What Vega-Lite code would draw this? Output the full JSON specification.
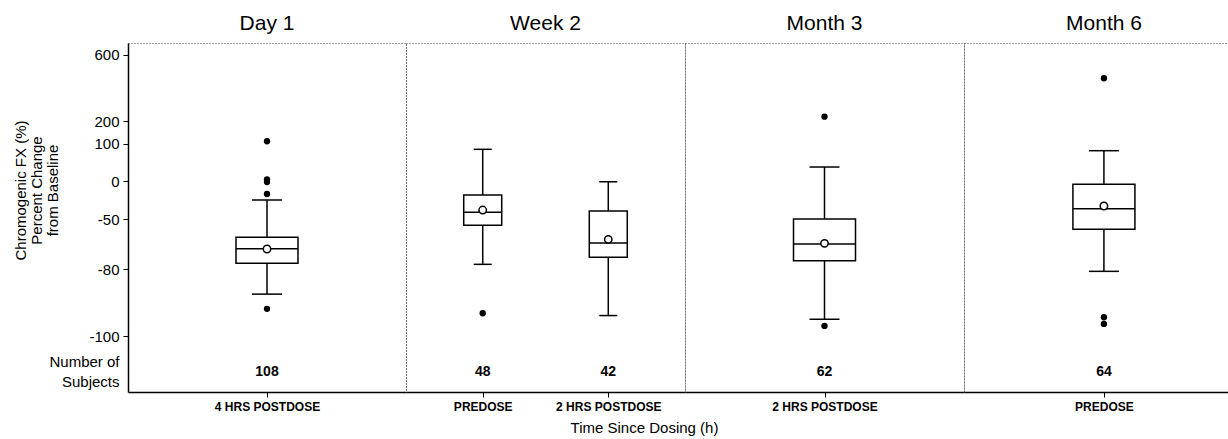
{
  "$schema": "https://vega.github.io/schema/vega-lite/v6.json",
  "padding": {"left": 12, "top": 12, "right": 0, "bottom": 0},
  "data": {"values": [
    {"kind":"box","visit":"Day 1","time":"4 HRS POSTDOSE","n":108,"wlo":-87.5,"q1":-76.6,"med":-67.8,"q3":-61,"whi":-25,"mean":-68},
    {"kind":"box","visit":"Week 2","time":"PREDOSE","n":48,"wlo":-77.2,"q1":-53.8,"med":-41.2,"q3":-18.4,"whi":84.5,"mean":-38.2},
    {"kind":"box","visit":"Week 2","time":"2 HRS POSTDOSE","n":42,"wlo":-93.9,"q1":-73,"med":-64.4,"q3":-39.5,"whi":-1,"mean":-62.2},
    {"kind":"box","visit":"Month 3","time":"2 HRS POSTDOSE","n":62,"wlo":-95,"q1":-75,"med":-65,"q3":-50,"whi":37.3,"mean":-64.6},
    {"kind":"box","visit":"Month 6","time":"PREDOSE","n":64,"wlo":-80.7,"q1":-56.2,"med":-36.5,"q3":-4.3,"whi":80.8,"mean":-32.9},
    {"kind":"out","visit":"Day 1","time":"4 HRS POSTDOSE","value":110},
    {"kind":"out","visit":"Day 1","time":"4 HRS POSTDOSE","value":4.5},
    {"kind":"out","visit":"Day 1","time":"4 HRS POSTDOSE","value":-1.3},
    {"kind":"out","visit":"Day 1","time":"4 HRS POSTDOSE","value":-17.1},
    {"kind":"out","visit":"Day 1","time":"4 HRS POSTDOSE","value":-91.9},
    {"kind":"out","visit":"Week 2","time":"PREDOSE","value":-93.2},
    {"kind":"out","visit":"Month 3","time":"2 HRS POSTDOSE","value":226},
    {"kind":"out","visit":"Month 3","time":"2 HRS POSTDOSE","value":-97},
    {"kind":"out","visit":"Month 6","time":"PREDOSE","value":457},
    {"kind":"out","visit":"Month 6","time":"PREDOSE","value":-94.4},
    {"kind":"out","visit":"Month 6","time":"PREDOSE","value":-96.4}
  ]},
  "title": {"text": "Time Since Dosing (h)", "orient": "bottom", "anchor": "middle", "fontSize": 15, "fontWeight": "normal", "offset": 8, "dx": 23, "color": "black"},
  "spacing": 0,
  "bounds": "flush",
  "resolve": {"scale": {"x": "independent", "y": "independent"}},
  "hconcat": [
    {
      "width": 278, "height": 349,
      "title": {"text": "Day 1", "fontSize": 21, "fontWeight": "normal", "anchor": "middle", "offset": 9, "color": "black"},
      "transform": [{"filter": "datum.visit == 'Day 1'"}],
      "encoding": {"x": {"field": "time", "type": "nominal", "sort": ["4 HRS POSTDOSE","PREDOSE","2 HRS POSTDOSE"], "scale": {"type": "point", "padding": 0.611, "align": 0.5}, "axis": {"title": null}}},
      "layer": [
        {"transform": [{"filter": "datum.kind == 'box'"}], "mark": {"type": "rule", "strokeWidth": 1.5, "color": "black"},
         "encoding": {"y": {"field": "wlo", "type": "quantitative",
            "scale": {"domain": [-140,-100,-80,-50,0,100,200,600,669], "range": [349,293,226,176,138,100.5,78,11.5,0], "nice": false, "zero": false},
            "axis": {"values": [600,200,100,0,-50,-80,-100,-125.7], "title": ["Chromogenic FX (%)","Percent Change","from Baseline"], "labelExpr": "datum.value < -110 ? ['Number of', 'Subjects'] : '' + datum.value", "tickOpacity": {"condition": {"test": "datum.value < -110", "value": 0}, "value": 1}, "labelOffset": {"condition": {"test": "datum.value < -110", "value": -10}, "value": 0}, "labelFontSize": 15, "labelLineHeight": 20, "labelOverlap": false, "tickSize": 5, "labelPadding": 4, "titleFontSize": 15, "titleFontWeight": "normal", "titleLineHeight": 16, "titleX": -100, "titleY": 147}},
          "y2": {"field": "whi"}}},
        {"transform": [{"filter": "datum.kind == 'box'"}], "mark": {"type": "tick", "orient": "horizontal", "size": 30, "thickness": 1.5, "color": "black", "opacity": 1},
         "encoding": {"y": {"field": "wlo", "type": "quantitative", "scale": {"domain": [-140,-100,-80,-50,0,100,200,600,669], "range": [349,293,226,176,138,100.5,78,11.5,0], "nice": false, "zero": false},
            "axis": {"values": [600,200,100,0,-50,-80,-100,-125.7], "title": ["Chromogenic FX (%)","Percent Change","from Baseline"], "labelExpr": "datum.value < -110 ? ['Number of', 'Subjects'] : '' + datum.value", "tickOpacity": {"condition": {"test": "datum.value < -110", "value": 0}, "value": 1}, "labelOffset": {"condition": {"test": "datum.value < -110", "value": -10}, "value": 0}, "labelFontSize": 15, "labelLineHeight": 20, "labelOverlap": false, "tickSize": 5, "labelPadding": 4, "titleFontSize": 15, "titleFontWeight": "normal", "titleLineHeight": 16, "titleX": -100, "titleY": 147}}}},
        {"transform": [{"filter": "datum.kind == 'box'"}], "mark": {"type": "tick", "orient": "horizontal", "size": 30, "thickness": 1.5, "color": "black", "opacity": 1},
         "encoding": {"y": {"field": "whi", "type": "quantitative", "scale": {"domain": [-140,-100,-80,-50,0,100,200,600,669], "range": [349,293,226,176,138,100.5,78,11.5,0], "nice": false, "zero": false},
            "axis": {"values": [600,200,100,0,-50,-80,-100,-125.7], "title": ["Chromogenic FX (%)","Percent Change","from Baseline"], "labelExpr": "datum.value < -110 ? ['Number of', 'Subjects'] : '' + datum.value", "tickOpacity": {"condition": {"test": "datum.value < -110", "value": 0}, "value": 1}, "labelOffset": {"condition": {"test": "datum.value < -110", "value": -10}, "value": 0}, "labelFontSize": 15, "labelLineHeight": 20, "labelOverlap": false, "tickSize": 5, "labelPadding": 4, "titleFontSize": 15, "titleFontWeight": "normal", "titleLineHeight": 16, "titleX": -100, "titleY": 147}}}},
        {"transform": [{"filter": "datum.kind == 'box'"}], "mark": {"type": "bar", "size": 62, "fill": "white", "stroke": "black", "strokeWidth": 1.5},
         "encoding": {"y": {"field": "q1", "type": "quantitative", "scale": {"domain": [-140,-100,-80,-50,0,100,200,600,669], "range": [349,293,226,176,138,100.5,78,11.5,0], "nice": false, "zero": false},
            "axis": {"values": [600,200,100,0,-50,-80,-100,-125.7], "title": ["Chromogenic FX (%)","Percent Change","from Baseline"], "labelExpr": "datum.value < -110 ? ['Number of', 'Subjects'] : '' + datum.value", "tickOpacity": {"condition": {"test": "datum.value < -110", "value": 0}, "value": 1}, "labelOffset": {"condition": {"test": "datum.value < -110", "value": -10}, "value": 0}, "labelFontSize": 15, "labelLineHeight": 20, "labelOverlap": false, "tickSize": 5, "labelPadding": 4, "titleFontSize": 15, "titleFontWeight": "normal", "titleLineHeight": 16, "titleX": -100, "titleY": 147}}, "y2": {"field": "q3"}}},
        {"transform": [{"filter": "datum.kind == 'box'"}], "mark": {"type": "tick", "orient": "horizontal", "size": 62, "thickness": 1.5, "color": "black", "opacity": 1},
         "encoding": {"y": {"field": "med", "type": "quantitative", "scale": {"domain": [-140,-100,-80,-50,0,100,200,600,669], "range": [349,293,226,176,138,100.5,78,11.5,0], "nice": false, "zero": false},
            "axis": {"values": [600,200,100,0,-50,-80,-100,-125.7], "title": ["Chromogenic FX (%)","Percent Change","from Baseline"], "labelExpr": "datum.value < -110 ? ['Number of', 'Subjects'] : '' + datum.value", "tickOpacity": {"condition": {"test": "datum.value < -110", "value": 0}, "value": 1}, "labelOffset": {"condition": {"test": "datum.value < -110", "value": -10}, "value": 0}, "labelFontSize": 15, "labelLineHeight": 20, "labelOverlap": false, "tickSize": 5, "labelPadding": 4, "titleFontSize": 15, "titleFontWeight": "normal", "titleLineHeight": 16, "titleX": -100, "titleY": 147}}}},
        {"transform": [{"filter": "datum.kind == 'box'"}], "mark": {"type": "point", "shape": "circle", "filled": true, "fill": "white", "stroke": "black", "strokeWidth": 1.5, "size": 55, "opacity": 1},
         "encoding": {"y": {"field": "mean", "type": "quantitative", "scale": {"domain": [-140,-100,-80,-50,0,100,200,600,669], "range": [349,293,226,176,138,100.5,78,11.5,0], "nice": false, "zero": false},
            "axis": {"values": [600,200,100,0,-50,-80,-100,-125.7], "title": ["Chromogenic FX (%)","Percent Change","from Baseline"], "labelExpr": "datum.value < -110 ? ['Number of', 'Subjects'] : '' + datum.value", "tickOpacity": {"condition": {"test": "datum.value < -110", "value": 0}, "value": 1}, "labelOffset": {"condition": {"test": "datum.value < -110", "value": -10}, "value": 0}, "labelFontSize": 15, "labelLineHeight": 20, "labelOverlap": false, "tickSize": 5, "labelPadding": 4, "titleFontSize": 15, "titleFontWeight": "normal", "titleLineHeight": 16, "titleX": -100, "titleY": 147}}}},
        {"transform": [{"filter": "datum.kind == 'out'"}], "mark": {"type": "circle", "color": "black", "size": 40, "opacity": 1},
         "encoding": {"y": {"field": "value", "type": "quantitative", "scale": {"domain": [-140,-100,-80,-50,0,100,200,600,669], "range": [349,293,226,176,138,100.5,78,11.5,0], "nice": false, "zero": false},
            "axis": {"values": [600,200,100,0,-50,-80,-100,-125.7], "title": ["Chromogenic FX (%)","Percent Change","from Baseline"], "labelExpr": "datum.value < -110 ? ['Number of', 'Subjects'] : '' + datum.value", "tickOpacity": {"condition": {"test": "datum.value < -110", "value": 0}, "value": 1}, "labelOffset": {"condition": {"test": "datum.value < -110", "value": -10}, "value": 0}, "labelFontSize": 15, "labelLineHeight": 20, "labelOverlap": false, "tickSize": 5, "labelPadding": 4, "titleFontSize": 15, "titleFontWeight": "normal", "titleLineHeight": 16, "titleX": -100, "titleY": 147}}}},
        {"transform": [{"filter": "datum.kind == 'box'"}], "mark": {"type": "text", "fontWeight": "bold", "fontSize": 14, "color": "black"},
         "encoding": {"y": {"datum": -125.7, "type": "quantitative", "scale": {"domain": [-140,-100,-80,-50,0,100,200,600,669], "range": [349,293,226,176,138,100.5,78,11.5,0], "nice": false, "zero": false},
            "axis": {"values": [600,200,100,0,-50,-80,-100,-125.7], "title": ["Chromogenic FX (%)","Percent Change","from Baseline"], "labelExpr": "datum.value < -110 ? ['Number of', 'Subjects'] : '' + datum.value", "tickOpacity": {"condition": {"test": "datum.value < -110", "value": 0}, "value": 1}, "labelOffset": {"condition": {"test": "datum.value < -110", "value": -10}, "value": 0}, "labelFontSize": 15, "labelLineHeight": 20, "labelOverlap": false, "tickSize": 5, "labelPadding": 4, "titleFontSize": 15, "titleFontWeight": "normal", "titleLineHeight": 16, "titleX": -100, "titleY": 147}}, "text": {"field": "n"}}}
      ]
    },
    {
      "width": 279, "height": 349,
      "title": {"text": "Week 2", "fontSize": 21, "fontWeight": "normal", "anchor": "middle", "offset": 9, "color": "black"},
      "transform": [{"filter": "datum.visit == 'Week 2'"}],
      "encoding": {"x": {"field": "time", "type": "nominal", "sort": ["4 HRS POSTDOSE","PREDOSE","2 HRS POSTDOSE"], "scale": {"type": "point", "padding": 0.611, "align": 0.5}, "axis": {"title": null}}},
      "layer": [
        {"transform": [{"filter": "datum.kind == 'box'"}], "mark": {"type": "rule", "strokeWidth": 1.5, "color": "black"},
         "encoding": {"y": {"field": "wlo", "type": "quantitative", "scale": {"domain": [-140,-100,-80,-50,0,100,200,600,669], "range": [349,293,226,176,138,100.5,78,11.5,0], "nice": false, "zero": false}, "axis": null}, "y2": {"field": "whi"}}},
        {"transform": [{"filter": "datum.kind == 'box'"}], "mark": {"type": "tick", "orient": "horizontal", "size": 18, "thickness": 1.5, "color": "black", "opacity": 1},
         "encoding": {"y": {"field": "wlo", "type": "quantitative", "scale": {"domain": [-140,-100,-80,-50,0,100,200,600,669], "range": [349,293,226,176,138,100.5,78,11.5,0], "nice": false, "zero": false}, "axis": null}}},
        {"transform": [{"filter": "datum.kind == 'box'"}], "mark": {"type": "tick", "orient": "horizontal", "size": 18, "thickness": 1.5, "color": "black", "opacity": 1},
         "encoding": {"y": {"field": "whi", "type": "quantitative", "scale": {"domain": [-140,-100,-80,-50,0,100,200,600,669], "range": [349,293,226,176,138,100.5,78,11.5,0], "nice": false, "zero": false}, "axis": null}}},
        {"transform": [{"filter": "datum.kind == 'box'"}], "mark": {"type": "bar", "size": 38, "fill": "white", "stroke": "black", "strokeWidth": 1.5},
         "encoding": {"y": {"field": "q1", "type": "quantitative", "scale": {"domain": [-140,-100,-80,-50,0,100,200,600,669], "range": [349,293,226,176,138,100.5,78,11.5,0], "nice": false, "zero": false}, "axis": null}, "y2": {"field": "q3"}}},
        {"transform": [{"filter": "datum.kind == 'box'"}], "mark": {"type": "tick", "orient": "horizontal", "size": 38, "thickness": 1.5, "color": "black", "opacity": 1},
         "encoding": {"y": {"field": "med", "type": "quantitative", "scale": {"domain": [-140,-100,-80,-50,0,100,200,600,669], "range": [349,293,226,176,138,100.5,78,11.5,0], "nice": false, "zero": false}, "axis": null}}},
        {"transform": [{"filter": "datum.kind == 'box'"}], "mark": {"type": "point", "shape": "circle", "filled": true, "fill": "white", "stroke": "black", "strokeWidth": 1.5, "size": 55, "opacity": 1},
         "encoding": {"y": {"field": "mean", "type": "quantitative", "scale": {"domain": [-140,-100,-80,-50,0,100,200,600,669], "range": [349,293,226,176,138,100.5,78,11.5,0], "nice": false, "zero": false}, "axis": null}}},
        {"transform": [{"filter": "datum.kind == 'out'"}], "mark": {"type": "circle", "color": "black", "size": 40, "opacity": 1},
         "encoding": {"y": {"field": "value", "type": "quantitative", "scale": {"domain": [-140,-100,-80,-50,0,100,200,600,669], "range": [349,293,226,176,138,100.5,78,11.5,0], "nice": false, "zero": false}, "axis": null}}},
        {"transform": [{"filter": "datum.kind == 'box'"}], "mark": {"type": "text", "fontWeight": "bold", "fontSize": 14, "color": "black"},
         "encoding": {"y": {"datum": -125.7, "type": "quantitative", "scale": {"domain": [-140,-100,-80,-50,0,100,200,600,669], "range": [349,293,226,176,138,100.5,78,11.5,0], "nice": false, "zero": false}, "axis": null}, "text": {"field": "n"}}}
      ]
    },
    {
      "width": 279, "height": 349,
      "title": {"text": "Month 3", "fontSize": 21, "fontWeight": "normal", "anchor": "middle", "offset": 9, "color": "black"},
      "transform": [{"filter": "datum.visit == 'Month 3'"}],
      "encoding": {"x": {"field": "time", "type": "nominal", "sort": ["4 HRS POSTDOSE","PREDOSE","2 HRS POSTDOSE"], "scale": {"type": "point", "padding": 0.611, "align": 0.5}, "axis": {"title": null}}},
      "layer": [
        {"transform": [{"filter": "datum.kind == 'box'"}], "mark": {"type": "rule", "strokeWidth": 1.5, "color": "black"},
         "encoding": {"y": {"field": "wlo", "type": "quantitative", "scale": {"domain": [-140,-100,-80,-50,0,100,200,600,669], "range": [349,293,226,176,138,100.5,78,11.5,0], "nice": false, "zero": false}, "axis": null}, "y2": {"field": "whi"}}},
        {"transform": [{"filter": "datum.kind == 'box'"}], "mark": {"type": "tick", "orient": "horizontal", "size": 30, "thickness": 1.5, "color": "black", "opacity": 1},
         "encoding": {"y": {"field": "wlo", "type": "quantitative", "scale": {"domain": [-140,-100,-80,-50,0,100,200,600,669], "range": [349,293,226,176,138,100.5,78,11.5,0], "nice": false, "zero": false}, "axis": null}}},
        {"transform": [{"filter": "datum.kind == 'box'"}], "mark": {"type": "tick", "orient": "horizontal", "size": 30, "thickness": 1.5, "color": "black", "opacity": 1},
         "encoding": {"y": {"field": "whi", "type": "quantitative", "scale": {"domain": [-140,-100,-80,-50,0,100,200,600,669], "range": [349,293,226,176,138,100.5,78,11.5,0], "nice": false, "zero": false}, "axis": null}}},
        {"transform": [{"filter": "datum.kind == 'box'"}], "mark": {"type": "bar", "size": 62, "fill": "white", "stroke": "black", "strokeWidth": 1.5},
         "encoding": {"y": {"field": "q1", "type": "quantitative", "scale": {"domain": [-140,-100,-80,-50,0,100,200,600,669], "range": [349,293,226,176,138,100.5,78,11.5,0], "nice": false, "zero": false}, "axis": null}, "y2": {"field": "q3"}}},
        {"transform": [{"filter": "datum.kind == 'box'"}], "mark": {"type": "tick", "orient": "horizontal", "size": 62, "thickness": 1.5, "color": "black", "opacity": 1},
         "encoding": {"y": {"field": "med", "type": "quantitative", "scale": {"domain": [-140,-100,-80,-50,0,100,200,600,669], "range": [349,293,226,176,138,100.5,78,11.5,0], "nice": false, "zero": false}, "axis": null}}},
        {"transform": [{"filter": "datum.kind == 'box'"}], "mark": {"type": "point", "shape": "circle", "filled": true, "fill": "white", "stroke": "black", "strokeWidth": 1.5, "size": 55, "opacity": 1},
         "encoding": {"y": {"field": "mean", "type": "quantitative", "scale": {"domain": [-140,-100,-80,-50,0,100,200,600,669], "range": [349,293,226,176,138,100.5,78,11.5,0], "nice": false, "zero": false}, "axis": null}}},
        {"transform": [{"filter": "datum.kind == 'out'"}], "mark": {"type": "circle", "color": "black", "size": 40, "opacity": 1},
         "encoding": {"y": {"field": "value", "type": "quantitative", "scale": {"domain": [-140,-100,-80,-50,0,100,200,600,669], "range": [349,293,226,176,138,100.5,78,11.5,0], "nice": false, "zero": false}, "axis": null}}},
        {"transform": [{"filter": "datum.kind == 'box'"}], "mark": {"type": "text", "fontWeight": "bold", "fontSize": 14, "color": "black"},
         "encoding": {"y": {"datum": -125.7, "type": "quantitative", "scale": {"domain": [-140,-100,-80,-50,0,100,200,600,669], "range": [349,293,226,176,138,100.5,78,11.5,0], "nice": false, "zero": false}, "axis": null}, "text": {"field": "n"}}}
      ]
    },
    {
      "width": 266, "height": 349,
      "title": {"text": "Month 6", "fontSize": 21, "fontWeight": "normal", "anchor": "middle", "offset": 9, "color": "black", "dx": 7},
      "transform": [{"filter": "datum.visit == 'Month 6'"}],
      "encoding": {"x": {"field": "time", "type": "nominal", "sort": ["4 HRS POSTDOSE","PREDOSE","2 HRS POSTDOSE"], "scale": {"type": "point", "padding": 0.611, "align": 0.526}, "axis": {"title": null}}},
      "layer": [
        {"transform": [{"filter": "datum.kind == 'box'"}], "mark": {"type": "rule", "strokeWidth": 1.5, "color": "black"},
         "encoding": {"y": {"field": "wlo", "type": "quantitative", "scale": {"domain": [-140,-100,-80,-50,0,100,200,600,669], "range": [349,293,226,176,138,100.5,78,11.5,0], "nice": false, "zero": false}, "axis": null}, "y2": {"field": "whi"}}},
        {"transform": [{"filter": "datum.kind == 'box'"}], "mark": {"type": "tick", "orient": "horizontal", "size": 30, "thickness": 1.5, "color": "black", "opacity": 1},
         "encoding": {"y": {"field": "wlo", "type": "quantitative", "scale": {"domain": [-140,-100,-80,-50,0,100,200,600,669], "range": [349,293,226,176,138,100.5,78,11.5,0], "nice": false, "zero": false}, "axis": null}}},
        {"transform": [{"filter": "datum.kind == 'box'"}], "mark": {"type": "tick", "orient": "horizontal", "size": 30, "thickness": 1.5, "color": "black", "opacity": 1},
         "encoding": {"y": {"field": "whi", "type": "quantitative", "scale": {"domain": [-140,-100,-80,-50,0,100,200,600,669], "range": [349,293,226,176,138,100.5,78,11.5,0], "nice": false, "zero": false}, "axis": null}}},
        {"transform": [{"filter": "datum.kind == 'box'"}], "mark": {"type": "bar", "size": 62, "fill": "white", "stroke": "black", "strokeWidth": 1.5},
         "encoding": {"y": {"field": "q1", "type": "quantitative", "scale": {"domain": [-140,-100,-80,-50,0,100,200,600,669], "range": [349,293,226,176,138,100.5,78,11.5,0], "nice": false, "zero": false}, "axis": null}, "y2": {"field": "q3"}}},
        {"transform": [{"filter": "datum.kind == 'box'"}], "mark": {"type": "tick", "orient": "horizontal", "size": 62, "thickness": 1.5, "color": "black", "opacity": 1},
         "encoding": {"y": {"field": "med", "type": "quantitative", "scale": {"domain": [-140,-100,-80,-50,0,100,200,600,669], "range": [349,293,226,176,138,100.5,78,11.5,0], "nice": false, "zero": false}, "axis": null}}},
        {"transform": [{"filter": "datum.kind == 'box'"}], "mark": {"type": "point", "shape": "circle", "filled": true, "fill": "white", "stroke": "black", "strokeWidth": 1.5, "size": 55, "opacity": 1},
         "encoding": {"y": {"field": "mean", "type": "quantitative", "scale": {"domain": [-140,-100,-80,-50,0,100,200,600,669], "range": [349,293,226,176,138,100.5,78,11.5,0], "nice": false, "zero": false}, "axis": null}}},
        {"transform": [{"filter": "datum.kind == 'out'"}], "mark": {"type": "circle", "color": "black", "size": 40, "opacity": 1},
         "encoding": {"y": {"field": "value", "type": "quantitative", "scale": {"domain": [-140,-100,-80,-50,0,100,200,600,669], "range": [349,293,226,176,138,100.5,78,11.5,0], "nice": false, "zero": false}, "axis": null}}},
        {"transform": [{"filter": "datum.kind == 'box'"}], "mark": {"type": "text", "fontWeight": "bold", "fontSize": 14, "color": "black"},
         "encoding": {"y": {"datum": -125.7, "type": "quantitative", "scale": {"domain": [-140,-100,-80,-50,0,100,200,600,669], "range": [349,293,226,176,138,100.5,78,11.5,0], "nice": false, "zero": false}, "axis": null}, "text": {"field": "n"}}}
      ]
    }
  ],
  "config": {
    "font": "Liberation Sans",
    "view": {"stroke": "#444", "strokeDash": [1, 2], "strokeWidth": 1},
    "axis": {"domainColor": "black", "domainWidth": 1.5, "tickColor": "black", "tickWidth": 1, "labelColor": "black", "titleColor": "black", "grid": false},
    "axisX": {"labelFontWeight": "bold", "labelFontSize": 12, "labelAngle": 0, "tickSize": 5, "labelPadding": 4}
  }
}
